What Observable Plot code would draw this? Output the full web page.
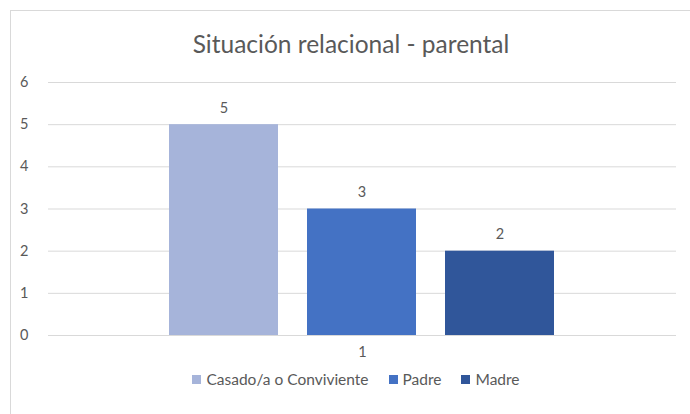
<!DOCTYPE html>
<html>
<head>
<meta charset="utf-8">
<script src="https://cdn.jsdelivr.net/npm/d3@7"></script>
<script src="https://cdn.jsdelivr.net/npm/@observablehq/plot@0.6"></script>
<style>
  html, body { margin: 0; padding: 0; background: #fff; width: 690px; height: 414px; overflow: hidden; }
  body { position: relative; font-family: Lato, "Open Sans", sans-serif; }
  #frame { position: absolute; left: 10px; top: 10px; width: 700px; height: 420px; border-left: 1px solid #d9d9d9; border-top: 1px solid #d9d9d9; }
  #title { position: absolute; left: 0; top: 29px; width: 702px; text-align: center; font-size: 24.5px; color: #595959; }
  #chart { position: absolute; left: 0; top: 60px; }
  #legend { position: absolute; left: 0; top: 370px; width: 712px; display: flex; justify-content: center; font-size: 15.5px; color: #595959; }
  .item { display: flex; align-items: center; margin: 0 10px; }
  .sw { width: 9px; height: 9px; margin-right: 5px; }
</style>
</head>
<body>
<div id="frame"></div>
<div id="title">Situación relacional - parental</div>
<div id="chart"></div>
<div id="legend"></div>
<script>
const categories = ["1"];
const series = ["Casado/a o Conviviente", "Padre", "Madre"];
const values = [5, 3, 2];
const colors = ["#A6B4DA", "#4472C4", "#30569A"];
const yTicks = [0, 1, 2, 3, 4, 5, 6];

const data = series.map((s, i) => ({ cat: categories[0], serie: s, value: values[i] }));

const chart = Plot.plot({
  width: 690,
  height: 310,
  marginLeft: 48,
  marginRight: 14,
  marginTop: 22,
  marginBottom: 35,
  style: { fontFamily: "Lato, 'Open Sans', sans-serif", fontSize: "14.5px", color: "#595959", background: "transparent" },
  fx: { domain: categories, axis: "bottom", label: null, tickSize: 0, tickPadding: 11, padding: 0 },
  x: { domain: series, axis: null, paddingInner: 0.21, paddingOuter: 0.864 },
  y: { domain: [0, 6], ticks: yTicks, tickFormat: "d", tickSize: 0, tickPadding: 20, label: null, grid: false },
  color: { domain: series, range: colors },
  marks: [
    Plot.ruleY(yTicks, { stroke: "#d9d9d9", strokeWidth: 1, strokeOpacity: 1 }),
    Plot.barY(data, { fx: "cat", x: "serie", y: "value", fill: "serie" }),
    Plot.text(data, { fx: "cat", x: "serie", y: "value", text: d => String(d.value), dy: -12, lineAnchor: "bottom", fill: "#595959", fontSize: 14.5 })
  ]
});
document.getElementById("chart").appendChild(chart);

const legend = document.getElementById("legend");
series.forEach((s, i) => {
  const it = document.createElement("div");
  it.className = "item";
  const sw = document.createElement("span");
  sw.className = "sw";
  sw.style.background = colors[i];
  const lb = document.createElement("span");
  lb.textContent = s;
  it.appendChild(sw); it.appendChild(lb);
  legend.appendChild(it);
});
</script>
</body>
</html>
